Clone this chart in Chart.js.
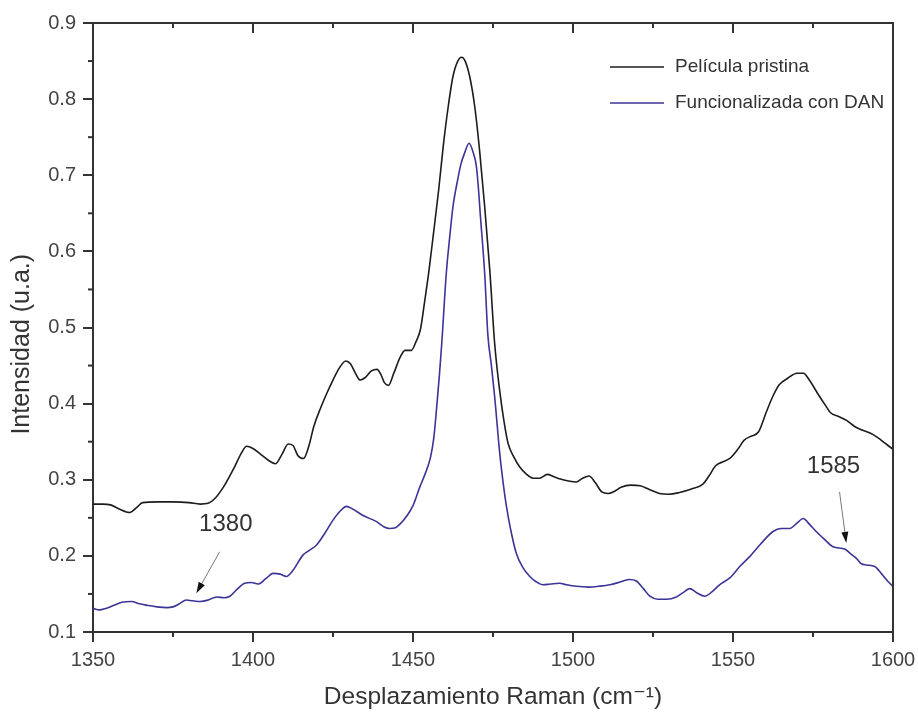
<!DOCTYPE html>
<html lang="es">
<head>
<meta charset="utf-8">
<title>Espectro Raman</title>
<script src="https://cdn.jsdelivr.net/npm/chart.js@4.4.1/dist/chart.umd.min.js"></script>
<style>
    body { margin: 0; background: #fff; }
    #contenedor { width: 918px; height: 713px; }
</style>
</head>
<body>
<div id="contenedor">
    <canvas id="chartRaman" width="918" height="713"></canvas>
</div>
<script>
const ramanPristina = [1350, 1353, 1355.5, 1358, 1361.5, 1363.5, 1365.5, 1370, 1375, 1380, 1383.5, 1386, 1388, 1391, 1394, 1396.5, 1398, 1400, 1402.5, 1405, 1407, 1409, 1411, 1412.5, 1414, 1415.8, 1417.5, 1419, 1421, 1423, 1425, 1427, 1429, 1430.5, 1432, 1433.5, 1435, 1437, 1438.8, 1440, 1441, 1442.3, 1444, 1446, 1447.5, 1449.5, 1451, 1452.3, 1453.5, 1455, 1456.3, 1458, 1459.5, 1461, 1462.5, 1464, 1465.2, 1466.3, 1467.7, 1469.3, 1470.8, 1472.4, 1474, 1475.5, 1477, 1478.5, 1479.7, 1481.5, 1483.3, 1485.5, 1487.5, 1489.5, 1492, 1494, 1496, 1499, 1501, 1503, 1505, 1507, 1509, 1511, 1513, 1515, 1518, 1521, 1524, 1527, 1530, 1533, 1537, 1540.5, 1542.5, 1544.5, 1546.5, 1549, 1551.5, 1553.5, 1555.5, 1558, 1560.5, 1562.5, 1564.5, 1567, 1570, 1572, 1574, 1576.5, 1579, 1580.5, 1583, 1585.5, 1588, 1590.5, 1593, 1595, 1597.5, 1600];
const intPristina = [0.268, 0.268, 0.267, 0.262, 0.257, 0.263, 0.270, 0.271, 0.271, 0.270, 0.268, 0.269, 0.275, 0.292, 0.315, 0.336, 0.344, 0.341, 0.333, 0.325, 0.321, 0.333, 0.347, 0.345, 0.332, 0.328, 0.345, 0.370, 0.393, 0.413, 0.431, 0.447, 0.456, 0.452, 0.440, 0.431, 0.434, 0.443, 0.445, 0.438, 0.428, 0.424, 0.440, 0.461, 0.470, 0.470, 0.482, 0.497, 0.530, 0.575, 0.620, 0.680, 0.740, 0.790, 0.830, 0.850, 0.855, 0.850, 0.830, 0.790, 0.733, 0.659, 0.575, 0.480, 0.420, 0.375, 0.348, 0.330, 0.317, 0.307, 0.302, 0.302, 0.307, 0.304, 0.301, 0.298, 0.297, 0.302, 0.305, 0.296, 0.284, 0.282, 0.285, 0.290, 0.293, 0.292, 0.287, 0.282, 0.281, 0.283, 0.288, 0.294, 0.305, 0.318, 0.323, 0.328, 0.340, 0.352, 0.357, 0.363, 0.390, 0.410, 0.425, 0.433, 0.440, 0.440, 0.430, 0.413, 0.397, 0.388, 0.383, 0.378, 0.370, 0.365, 0.361, 0.356, 0.348, 0.340];

const ramanDAN = [1350, 1352, 1354, 1356.5, 1359, 1362, 1364.5, 1367, 1370, 1373, 1375, 1377, 1379.2, 1381, 1383.5, 1386, 1388.6, 1391, 1392.8, 1395, 1397.4, 1399.5, 1401.6, 1404, 1406.3, 1408.5, 1410.4, 1412.5, 1415.6, 1417.5, 1419.8, 1422.5, 1425, 1427.5, 1429.2, 1431, 1434.4, 1438.6, 1441, 1442.7, 1444.5, 1446, 1448, 1450, 1452, 1454, 1455.5, 1456.5, 1457.5, 1458.3, 1459, 1460.4, 1461.5, 1462.5, 1464, 1465, 1466.2, 1467.5, 1468.8, 1469.8, 1470.5, 1471, 1472.4, 1473.4, 1474.5, 1475.5, 1477.1, 1478.2, 1479.2, 1480.5, 1482.3, 1484.3, 1486.5, 1488.5, 1490.6, 1493, 1495.8, 1498, 1501, 1505.2, 1508, 1511.5, 1515, 1517.7, 1519.8, 1522, 1524, 1526.5, 1529.2, 1532.3, 1534.5, 1536.5, 1538.5, 1541.2, 1543.5, 1545.8, 1549, 1552.1, 1555.2, 1558.5, 1562.5, 1565, 1567.7, 1570, 1571.9, 1574, 1576, 1578.5, 1581.25, 1584.9, 1586.7, 1588.5, 1590, 1591.7, 1594.3, 1596.5, 1598.5, 1600];
const intDAN = [0.131, 0.129, 0.131, 0.135, 0.139, 0.140, 0.137, 0.135, 0.133, 0.132, 0.133, 0.137, 0.142, 0.141, 0.140, 0.142, 0.146, 0.145, 0.147, 0.156, 0.164, 0.165, 0.163, 0.170, 0.177, 0.176, 0.173, 0.181, 0.201, 0.207, 0.214, 0.230, 0.247, 0.260, 0.265, 0.262, 0.253, 0.245, 0.238, 0.236, 0.237, 0.242, 0.252, 0.266, 0.289, 0.310, 0.330, 0.355, 0.400, 0.440, 0.480, 0.571, 0.620, 0.659, 0.695, 0.715, 0.730, 0.742, 0.730, 0.712, 0.680, 0.650, 0.571, 0.490, 0.450, 0.410, 0.335, 0.295, 0.265, 0.235, 0.203, 0.185, 0.173, 0.166, 0.162, 0.163, 0.164, 0.162, 0.160, 0.159, 0.160, 0.162, 0.166, 0.169, 0.167, 0.157, 0.147, 0.143, 0.143, 0.146, 0.152, 0.157, 0.152, 0.147, 0.153, 0.162, 0.171, 0.186, 0.199, 0.215, 0.232, 0.236, 0.236, 0.243, 0.249, 0.241, 0.232, 0.222, 0.212, 0.209, 0.203, 0.197, 0.190, 0.188, 0.186, 0.176, 0.166, 0.160];

const nombresSeries = ['Película pristina', 'Funcionalizada con DAN'];
const coloresSeries = ['#1c1c1c', '#3a3596'];

// Etiquetas de bandas: texto, posicion del texto y flecha (en unidades de datos)
const bandasTexto = ['1380', '1585'];
const bandasTextoXY = [[1391.5, 0.242], [1581.4, 0.317]];
const bandasFlecha = [[[1389.6, 0.2055], [1382.3, 0.151]], [[1583.3, 0.284], [1585.4, 0.217]]];

const tituloY = 'Intensidad (u.a.)';
const tituloX = 'Desplazamiento Raman (cm⁻¹)';

const FUENTE = '"Liberation Sans", Arial, "DejaVu Sans", sans-serif';
const COLOR_EJE = '#333333';

function aPuntos(xs, ys) {
    return xs.map((x, i) => ({ x: x, y: ys[i] }));
}

// Marco, ticks menores, titulo Y, leyenda y anotaciones
const pluginExtras = {
    id: 'extrasRaman',
    afterDraw(chart) {
        const ctx = chart.ctx;
        const area = chart.chartArea;
        const sx = chart.scales.x;
        const sy = chart.scales.y;
        ctx.save();

        // lineas superior y derecha del marco
        ctx.strokeStyle = COLOR_EJE;
        ctx.lineWidth = 2;
        ctx.beginPath();
        ctx.moveTo(area.left, area.top);
        ctx.lineTo(area.right, area.top);
        ctx.lineTo(area.right, area.bottom);
        ctx.stroke();

        // ticks del eje x: menores abajo, todos arriba hacia dentro
        for (let v = 1350; v <= 1600; v += 25) {
            const px = sx.getPixelForValue(v);
            const mayor = (v % 50 === 0);
            ctx.beginPath();
            if (!mayor) {
                ctx.moveTo(px, area.bottom);
                ctx.lineTo(px, area.bottom + 5);
            }
            ctx.moveTo(px, area.top);
            ctx.lineTo(px, area.top + (mayor ? 10 : 5));
            ctx.stroke();
        }
        // ticks menores del eje y
        for (let k = 1; k < 16; k += 2) {
            const py = sy.getPixelForValue(0.1 + k * 0.05);
            ctx.beginPath();
            ctx.moveTo(area.left, py);
            ctx.lineTo(area.left - 5, py);
            ctx.stroke();
        }

        // titulo del eje y (un poco por debajo del centro, como en el original)
        ctx.save();
        ctx.translate(22, sy.getPixelForValue(0.478));
        ctx.rotate(-Math.PI / 2);
        ctx.font = '25px ' + FUENTE;
        ctx.fillStyle = '#333';
        ctx.textAlign = 'center';
        ctx.textBaseline = 'middle';
        ctx.fillText(tituloY, 0, 0);
        ctx.restore();

        // leyenda
        ctx.font = '19px ' + FUENTE;
        ctx.textBaseline = 'middle';
        ctx.textAlign = 'left';
        nombresSeries.forEach((nombre, i) => {
            const y = area.top + 44 + i * 36;
            ctx.strokeStyle = coloresSeries[i];
            ctx.lineWidth = 1.5;
            ctx.beginPath();
            ctx.moveTo(area.right - 283, y);
            ctx.lineTo(area.right - 229, y);
            ctx.stroke();
            ctx.fillStyle = '#333';
            ctx.fillText(nombre, area.right - 218, y);
        });

        // anotaciones de bandas
        ctx.font = '24px ' + FUENTE;
        ctx.textAlign = 'center';
        bandasTexto.forEach((txt, i) => {
            const tx = sx.getPixelForValue(bandasTextoXY[i][0]);
            const ty = sy.getPixelForValue(bandasTextoXY[i][1]);
            ctx.fillStyle = '#333';
            ctx.fillText(txt, tx, ty);

            const x0 = sx.getPixelForValue(bandasFlecha[i][0][0]);
            const y0 = sy.getPixelForValue(bandasFlecha[i][0][1]);
            const x1 = sx.getPixelForValue(bandasFlecha[i][1][0]);
            const y1 = sy.getPixelForValue(bandasFlecha[i][1][1]);
            const ang = Math.atan2(y1 - y0, x1 - x0);
            ctx.strokeStyle = '#777';
            ctx.lineWidth = 1;
            ctx.beginPath();
            ctx.moveTo(x0, y0);
            ctx.lineTo(x1 - 8 * Math.cos(ang), y1 - 8 * Math.sin(ang));
            ctx.stroke();
            ctx.fillStyle = '#111';
            ctx.beginPath();
            ctx.moveTo(x1, y1);
            ctx.lineTo(x1 - 11 * Math.cos(ang) + 3.5 * Math.sin(ang), y1 - 11 * Math.sin(ang) - 3.5 * Math.cos(ang));
            ctx.lineTo(x1 - 11 * Math.cos(ang) - 3.5 * Math.sin(ang), y1 - 11 * Math.sin(ang) + 3.5 * Math.cos(ang));
            ctx.closePath();
            ctx.fill();
        });
        ctx.restore();
    }
};

document.addEventListener('DOMContentLoaded', function() {
    const ctx = document.getElementById('chartRaman').getContext('2d');
    new Chart(ctx, {
        type: 'line',
        data: {
            datasets: [{
                label: nombresSeries[0],
                data: aPuntos(ramanPristina, intPristina),
                borderColor: coloresSeries[0],
                borderWidth: 1.6,
                pointRadius: 0,
                cubicInterpolationMode: 'monotone'
            }, {
                label: nombresSeries[1],
                data: aPuntos(ramanDAN, intDAN),
                borderColor: coloresSeries[1],
                borderWidth: 1.6,
                pointRadius: 0,
                cubicInterpolationMode: 'monotone'
            }]
        },
        options: {
            responsive: false,
            animation: false,
            layout: { padding: { top: 23, right: 25, left: 0, bottom: 0 } },
            plugins: {
                legend: { display: false },
                tooltip: { enabled: false }
            },
            scales: {
                x: {
                    type: 'linear',
                    min: 1350,
                    max: 1600,
                    afterFit: (scale) => {
                        scale.height = 81;
                        // que la etiqueta 1600 no encoja el area del grafico
                        scale.paddingRight = 0;
                        scale.paddingLeft = 0;
                    },
                    ticks: {
                        stepSize: 50,
                        padding: 6,
                        color: '#444',
                        font: { family: FUENTE, size: 20 },
                        callback: (v) => String(v)
                    },
                    grid: { drawOnChartArea: false, tickLength: 10, color: COLOR_EJE, lineWidth: 2 },
                    border: { display: true, color: COLOR_EJE, width: 2 },
                    title: {
                        display: true,
                        text: tituloX,
                        color: '#333',
                        font: { family: FUENTE, size: 24.5 },
                        padding: { top: 0, bottom: 1 }
                    }
                },
                y: {
                    min: 0.1,
                    max: 0.9,
                    afterFit: (scale) => { scale.width = 93; },
                    ticks: {
                        stepSize: 0.1,
                        padding: 7,
                        color: '#444',
                        font: { family: FUENTE, size: 20 },
                        callback: (v) => v.toFixed(1)
                    },
                    grid: { drawOnChartArea: false, tickLength: 10, color: COLOR_EJE, lineWidth: 2 },
                    border: { display: true, color: COLOR_EJE, width: 2 }
                }
            }
        },
        plugins: [pluginExtras]
    });
});
</script>
</body>
</html>
